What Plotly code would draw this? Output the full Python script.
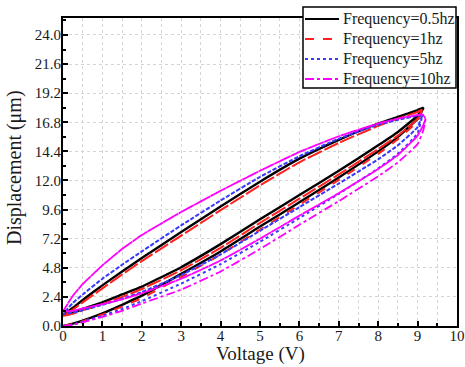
import plotly.graph_objects as go

# ---- data ----
names = ["Frequency=0.5hz", "Frequency=1hz", "Frequency=5hz", "Frequency=10hz"]
colors = ["#000000", "#ff2020", "#3a3aff", "#ff00ff"]
dashes = ["solid", "dash", "dot", "dashdot"]
widths = [2.4, 2.0, 2.0, 1.8]

x_ticks = [0, 1, 2, 3, 4, 5, 6, 7, 8, 9, 10]
y_ticks = [0.0, 2.4, 4.8, 7.2, 9.6, 12.0, 14.4, 16.8, 19.2, 21.6, 24.0]

# 0.5 Hz
v_black = [0, 0.25, 0.5, 1, 1.5, 2, 3, 4, 5, 6, 7, 8, 8.5, 9, 9.15]
up_black = [0.9, 1.5, 2.15, 3.35, 4.5, 5.6, 7.75, 9.85, 11.9, 13.8, 15.35, 16.7, 17.25, 17.8, 18.0]
lo_black = [0.9, 1.1, 1.4, 1.95, 2.6, 3.25, 4.85, 6.75, 8.8, 10.8, 12.8, 14.9, 16.0, 17.35, 18.0]
init_black = [0, 0.2, 0.45, 1.05, 1.75, 2.5, 4.3, 6.15, 8.2, 10.2, 12.25, 14.4, 15.6, 17.1, 18.0]

# 1 Hz
v_red = [0, 0.25, 0.5, 1, 1.5, 2, 3, 4, 5, 6, 7, 8, 8.5, 9, 9.12]
up_red = [0.85, 1.35, 1.95, 3.1, 4.25, 5.35, 7.45, 9.55, 11.6, 13.5, 15.1, 16.5, 17.1, 17.65, 17.85]
lo_red = [0.85, 1.0, 1.3, 1.8, 2.4, 3.05, 4.6, 6.45, 8.5, 10.5, 12.5, 14.6, 15.7, 17.1, 17.85]
init_red = [0, 0.15, 0.4, 0.95, 1.6, 2.3, 4.05, 5.9, 7.95, 10.0, 12.05, 14.2, 15.4, 16.9, 17.85]

# 5 Hz
v_blue = [0, 0.25, 0.5, 1, 1.5, 2, 3, 4, 5, 6, 7, 8, 8.5, 9, 9.12]
up_blue = [1.0, 1.9, 2.6, 3.9, 5.05, 6.15, 8.3, 10.35, 12.3, 14.0, 15.45, 16.6, 17.0, 17.35, 17.4]
lo_blue = [1.0, 1.1, 1.3, 1.75, 2.25, 2.8, 4.2, 5.9, 7.85, 9.8, 11.75, 13.75, 14.9, 16.4, 17.4]
init_blue = [0, 0.12, 0.35, 0.85, 1.4, 2.05, 3.5, 5.1, 6.95, 8.9, 10.9, 13.0, 14.2, 15.9, 17.4]

# 10 Hz
v_mag_up = [0, 0.25, 0.5, 1, 1.5, 2, 3, 4, 5, 6, 7, 8, 8.5, 9, 9.12]
up_mag = [1.2, 2.5, 3.45, 5.0, 6.35, 7.5, 9.4, 11.15, 12.8, 14.35, 15.65, 16.7, 17.1, 17.4, 17.45]
v_mag_lo = [0, 0.25, 0.5, 1, 1.5, 2, 3, 4, 5, 6, 7, 8, 8.5, 9, 9.15, 9.2]
lo_mag = [1.2, 1.25, 1.45, 1.8, 2.2, 2.7, 3.9, 5.4, 7.2, 9.1, 10.95, 12.95, 14.1, 15.7, 16.6, 17.1]
init_mag = [0, 0.1, 0.3, 0.75, 1.25, 1.85, 3.0, 4.5, 6.35, 8.35, 10.3, 12.35, 13.5, 15.0, 16.2, 17.1]

series = [
    (v_black, up_black, v_black, lo_black, v_black, init_black),
    (v_red, up_red, v_red, lo_red, v_red, init_red),
    (v_blue, up_blue, v_blue, lo_blue, v_blue, init_blue),
    (v_mag_up, up_mag, v_mag_lo, lo_mag, v_mag_lo, init_mag),
]

n_cycles = 2
FONT = "Liberation Serif, Times New Roman, serif"

fig = go.Figure()
for i, (vu, du, vl, dl, vi, di) in enumerate(series):
    xs = list(vi)
    ys = list(di)
    for _ in range(n_cycles):
        xs += list(reversed(vu)) + list(vl)
        ys += list(reversed(du)) + list(dl)
    fig.add_trace(go.Scatter(
        x=xs, y=ys, mode="lines", name=names[i], showlegend=False,
        line=dict(color=colors[i], dash=dashes[i], width=widths[i], shape="spline", smoothing=0.4),
    ))

# ---- page geometry ----
W, H = 465, 367
PL, PR, PT, PB = 63, 457, 18, 326          # plot area in screen pixels
def px_x(p):
    return (p - PL) / (PR - PL)
def px_y(p):
    return (PB - p) / (PB - PT)

shapes = [dict(type="rect", xref="paper", yref="paper",
               x0=px_x(303), x1=px_x(456), y0=px_y(88), y1=px_y(7),
               line=dict(color="black", width=1.5), fillcolor="white", layer="above")]
annotations = []
row_y = [19, 39, 59, 79]
for i, nm in enumerate(names):
    shapes.append(dict(type="line", xref="paper", yref="paper",
                       x0=px_x(305), x1=px_x(339), y0=px_y(row_y[i]), y1=px_y(row_y[i]),
                       line=dict(color=colors[i], dash=dashes[i], width=2), layer="above"))
    annotations.append(dict(xref="paper", yref="paper", x=px_x(341), y=px_y(row_y[i]),
                            xanchor="left", yanchor="middle", text=nm, showarrow=False,
                            font=dict(family=FONT, size=16, color="#1a1a1a")))

# axis titles
annotations.append(dict(xref="paper", yref="paper", x=px_x(260), y=px_y(354),
                        xanchor="center", yanchor="middle", text="Voltage (V)", showarrow=False,
                        font=dict(family=FONT, size=19, color="#1a1a1a")))
annotations.append(dict(xref="paper", yref="paper", x=px_x(14), y=px_y(168),
                        xanchor="center", yanchor="middle", text="Displacement (μm)", showarrow=False,
                        textangle=-90, font=dict(family=FONT, size=20, color="#1a1a1a")))

grid_col = "#d4d4d4"
fig.update_layout(
    width=W, height=H,
    margin=dict(l=PL, r=W - PR, t=PT, b=H - PB),
    paper_bgcolor="white", plot_bgcolor="white",
    font=dict(family=FONT, color="#1a1a1a", size=14),
    showlegend=False,
    hovermode=False,
    shapes=shapes, annotations=annotations,
    xaxis=dict(
        range=[0, 10], tickmode="array", tickvals=x_ticks, ticktext=[str(t) for t in x_ticks],
        ticks="inside", ticklen=5, tickwidth=1.5, tickcolor="black",
        showline=True, linewidth=2, linecolor="black", mirror=True,
        showgrid=True, gridcolor=grid_col, griddash="dot", gridwidth=1,
        zeroline=False, automargin=False, ticklabeloverflow="allow",
        minor=dict(dtick=0.5, tick0=0, ticks="inside", ticklen=3, tickcolor="black",
                   showgrid=True, gridcolor=grid_col, griddash="dot"),
        tickfont=dict(family=FONT, size=15),
        ticklabelstandoff=-5,
    ),
    yaxis=dict(
        range=[0, 25.4], tickmode="array", tickvals=y_ticks, ticktext=[f"{t:.1f}" for t in y_ticks],
        ticks="inside", ticklen=5, tickwidth=1.5, tickcolor="black",
        showline=True, linewidth=2, linecolor="black", mirror=True,
        showgrid=True, gridcolor=grid_col, griddash="dot", gridwidth=1,
        zeroline=False, automargin=False, ticklabeloverflow="allow",
        minor=dict(dtick=1.2, tick0=0, ticks="inside", ticklen=3, tickcolor="black", showgrid=False),
        tickfont=dict(family=FONT, size=15),
        ticklabelstandoff=-3,
    ),
)

# remove the browser's default 8px page margin so the figure fills the window
fig.write_html("out.html", config={"displayModeBar": False},
               post_script="document.body.style.margin='0px';")
